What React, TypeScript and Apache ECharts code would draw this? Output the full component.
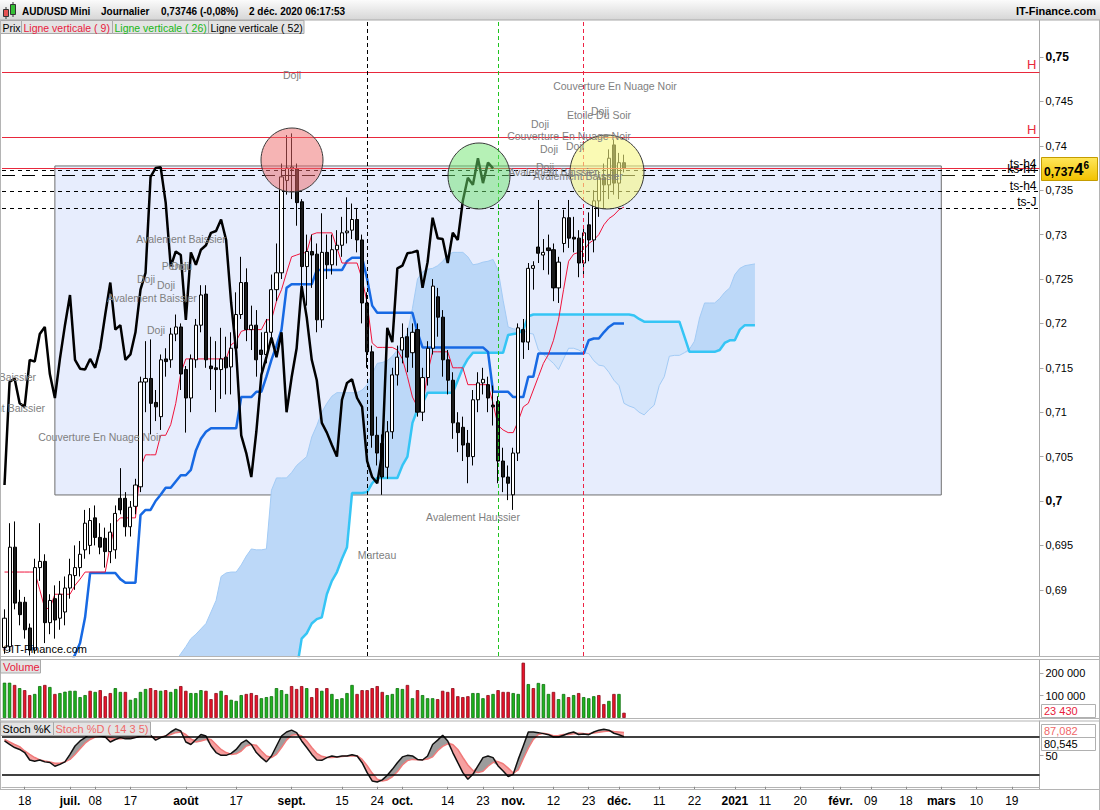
import React, { useEffect, useRef } from "react";
import * as echarts from "echarts";

const FONT = '"Liberation Sans", Arial, sans-serif';

// ---------- categories ----------
const START_DATE = "2020-06-12";
const CATEGORY_COUNT = 206;

const xTickDates = [
  "2020-06-18", "2020-07-01", "2020-07-08", "2020-07-17", "2020-08-03", "2020-08-17",
  "2020-09-01", "2020-09-15", "2020-09-24", "2020-10-01", "2020-10-14", "2020-10-23",
  "2020-11-02", "2020-11-12", "2020-11-23", "2020-12-01", "2020-12-11", "2020-12-22",
  "2021-01-01", "2021-01-11", "2021-01-20", "2021-02-01", "2021-02-09", "2021-02-18",
  "2021-03-01", "2021-03-10", "2021-03-19",
];
const xTickTexts = [
  "18", "juil.", "08", "17", "août", "17", "sept.", "15", "24", "oct.", "14", "23",
  "nov.", "12", "23", "déc.", "11", "22", "2021", "11", "20", "févr.", "09", "18",
  "mars", "10", "19",
];
const boldTickTexts = ["juil.", "août", "sept.", "oct.", "nov.", "déc.", "2021", "févr.", "mars"];

// ---------- candles (AUD/USD daily) ----------
const openP = [
  0.6835, 0.6836, 0.6948, 0.6886, 0.6886, 0.6857, 0.6832, 0.6925, 0.6932, 0.6863,
  0.6890, 0.6868, 0.6875, 0.6902, 0.6916, 0.6925, 0.6945, 0.6950, 0.6981, 0.6959,
  0.6958, 0.6943, 0.6945, 0.7003, 0.7003, 0.6971, 0.6994, 0.7016, 0.7134, 0.7138,
  0.7111, 0.7095, 0.7160, 0.7159, 0.7188, 0.7196, 0.7148, 0.7116, 0.7159, 0.7198,
  0.7233, 0.7152, 0.7150, 0.7148, 0.7162, 0.7151, 0.7172, 0.7210, 0.7246, 0.7193,
  0.7198, 0.7170, 0.7165, 0.7190, 0.7238, 0.7257, 0.7361, 0.7374, 0.7374, 0.7337,
  0.7264, 0.7281, 0.7278, 0.7204, 0.7280, 0.7266, 0.7283, 0.7288, 0.7302, 0.7305,
  0.7317, 0.7294, 0.7223, 0.7168, 0.7074, 0.7065, 0.7038, 0.7078, 0.7142, 0.7170,
  0.7185, 0.7167, 0.7193, 0.7100, 0.7139, 0.7172, 0.7230, 0.7207, 0.7159, 0.7136,
  0.7088, 0.7083, 0.7065, 0.7050, 0.7114, 0.7133, 0.7131, 0.7108, 0.7112, 0.7045,
  0.7027, 0.7007, 0.7054, 0.7193, 0.7179, 0.7262, 0.7286, 0.7277, 0.7285, 0.7283,
  0.7240, 0.7290, 0.7319, 0.7297, 0.7296, 0.7268, 0.7311, 0.7294, 0.7338, 0.7364,
  0.7356, 0.7401, 0.7358, 0.7381,
];
const closeP = [
  0.6868, 0.6948, 0.6885, 0.6872, 0.6855, 0.6832, 0.6925, 0.6932, 0.6863, 0.6888,
  0.6866, 0.6895, 0.6902, 0.6917, 0.6925, 0.6940, 0.6975, 0.6978, 0.6959, 0.6948,
  0.6943, 0.6965, 0.6986, 0.6990, 0.6971, 0.6993, 0.7018, 0.7134, 0.7138, 0.7110,
  0.7106, 0.7159, 0.7157, 0.7188, 0.7196, 0.7143, 0.7116, 0.7160, 0.7198, 0.7232,
  0.7159, 0.7149, 0.7148, 0.7160, 0.7150, 0.7172, 0.7210, 0.7246, 0.7193, 0.7198,
  0.7159, 0.7165, 0.7190, 0.7238, 0.7257, 0.7365, 0.7375, 0.7376, 0.7336, 0.7264,
  0.7281, 0.7277, 0.7204, 0.7280, 0.7266, 0.7283, 0.7288, 0.7302, 0.7304, 0.7317,
  0.7294, 0.7223, 0.7168, 0.7074, 0.7054, 0.7027, 0.7078, 0.7142, 0.7162, 0.7184,
  0.7162, 0.7190, 0.7100, 0.7139, 0.7172, 0.7242, 0.7207, 0.7159, 0.7136, 0.7088,
  0.7077, 0.7063, 0.7050, 0.7114, 0.7133, 0.7137, 0.7116, 0.7106, 0.7045, 0.7027,
  0.7020, 0.7054, 0.7195, 0.7179, 0.7262, 0.7265, 0.7279, 0.7280, 0.7282, 0.7240,
  0.7269, 0.7319, 0.7296, 0.7295, 0.7268, 0.7302, 0.7294, 0.7338, 0.7364, 0.7356,
  0.7386, 0.7358, 0.7381, 0.73746,
];
const highP = [
  0.6878, 0.6975, 0.6977, 0.6900, 0.6892, 0.6862, 0.6935, 0.6975, 0.6940, 0.6895,
  0.6905, 0.6910, 0.6915, 0.6935, 0.6950, 0.6955, 0.6990, 0.6992, 0.6995, 0.6975,
  0.6970, 0.6975, 0.6995, 0.7037, 0.7010, 0.7000, 0.7025, 0.7140, 0.7180, 0.7182,
  0.7125, 0.7165, 0.7172, 0.7195, 0.7210, 0.7200, 0.7152, 0.7165, 0.7205, 0.7243,
  0.7243, 0.7185, 0.7180, 0.7195, 0.7185, 0.7190, 0.7235, 0.7275, 0.7262, 0.7220,
  0.7215, 0.7190, 0.7205, 0.7255, 0.7290, 0.7380, 0.7412, 0.7414, 0.7380, 0.7340,
  0.7300, 0.7300, 0.7290, 0.7324, 0.7300, 0.7300, 0.7305, 0.7320, 0.7342, 0.7335,
  0.7330, 0.7300, 0.7235, 0.7175, 0.7095, 0.7075, 0.7090, 0.7150, 0.7175, 0.7200,
  0.7195, 0.7200, 0.7200, 0.7150, 0.7180, 0.7250, 0.7240, 0.7215, 0.7170, 0.7145,
  0.7100, 0.7095, 0.7080, 0.7125, 0.7145, 0.7150, 0.7140, 0.7130, 0.7118, 0.7060,
  0.7040, 0.7060, 0.7200, 0.7205, 0.7268, 0.7270, 0.7339, 0.7295, 0.7300, 0.7290,
  0.7275, 0.7328, 0.7339, 0.7320, 0.7305, 0.7310, 0.7325, 0.7350, 0.7372, 0.7380,
  0.7396, 0.7407, 0.7392, 0.7390,
];
const lowP = [
  0.6828, 0.6830, 0.6878, 0.6860, 0.6845, 0.6826, 0.6828, 0.6910, 0.6840, 0.6850,
  0.6845, 0.6855, 0.6860, 0.6890, 0.6900, 0.6915, 0.6935, 0.6940, 0.6950, 0.6940,
  0.6925, 0.6930, 0.6935, 0.6985, 0.6960, 0.6960, 0.6985, 0.7010, 0.7100, 0.7075,
  0.7090, 0.7080, 0.7140, 0.7150, 0.7180, 0.7125, 0.7077, 0.7100, 0.7150, 0.7190,
  0.7150, 0.7125, 0.7100, 0.7115, 0.7120, 0.7120, 0.7165, 0.7205, 0.7180, 0.7170,
  0.7140, 0.7145, 0.7155, 0.7180, 0.7225, 0.7250, 0.7345, 0.7340, 0.7310, 0.7240,
  0.7220, 0.7240, 0.7190, 0.7195, 0.7250, 0.7255, 0.7265, 0.7275, 0.7290, 0.7295,
  0.7280, 0.7200, 0.7150, 0.7060, 0.7040, 0.7007, 0.7025, 0.7070, 0.7130, 0.7155,
  0.7145, 0.7150, 0.7095, 0.7090, 0.7130, 0.7165, 0.7185, 0.7140, 0.7120, 0.7070,
  0.7055, 0.7045, 0.7020, 0.7040, 0.7100, 0.7120, 0.7100, 0.7085, 0.7020, 0.7010,
  0.7001, 0.6990, 0.7045, 0.7160, 0.7170, 0.7238, 0.7268, 0.7260, 0.7255, 0.7225,
  0.7223, 0.7280, 0.7285, 0.7280, 0.7252, 0.7255, 0.7270, 0.7280, 0.7320, 0.7330,
  0.7340, 0.7345, 0.7340, 0.7370,
];

// ---------- Ichimoku ----------
const tenkan = [
  0.6920, 0.6920, 0.6920, 0.6920, 0.6920, 0.6920, 0.6920, 0.6900, 0.6879, 0.6879,
  0.6895, 0.6895, 0.6895, 0.6895, 0.6905, 0.6912, 0.6920, 0.6920, 0.6920, 0.6920,
  0.6920, 0.6950, 0.6975, 0.6981, 0.6981, 0.6981, 0.6981, 0.7038, 0.7052, 0.7052,
  0.7052, 0.7074, 0.7074, 0.7086, 0.7110, 0.7144, 0.7160, 0.7160, 0.7160, 0.7160,
  0.7160, 0.7160, 0.7160, 0.7160, 0.7160, 0.7176, 0.7180, 0.7191, 0.7193, 0.7193,
  0.7193, 0.7193, 0.7204, 0.7204, 0.7225, 0.7238, 0.7257, 0.7275, 0.7277, 0.7279,
  0.7280, 0.7300, 0.7302, 0.7302, 0.7302, 0.7302, 0.7285, 0.7268, 0.7268, 0.7268,
  0.7268, 0.7250, 0.7223, 0.7178, 0.7173, 0.7173, 0.7173, 0.7173, 0.7170, 0.7160,
  0.7140, 0.7117, 0.7106, 0.7106, 0.7144, 0.7168, 0.7168, 0.7168, 0.7168, 0.7150,
  0.7150, 0.7150, 0.7131, 0.7131, 0.7131, 0.7131, 0.7131, 0.7110, 0.7085, 0.7080,
  0.7077, 0.7077, 0.7090, 0.7106, 0.7110, 0.7125, 0.7140, 0.7155, 0.7165, 0.7181,
  0.7204, 0.7238, 0.7270, 0.7278, 0.7280, 0.7282, 0.7290, 0.7294, 0.7300, 0.7311,
  0.7318, 0.7322, 0.7328, 0.7331,
];
const KIJUN_START = 13;
const kijun = [
  0.6815, 0.6827, 0.6840, 0.6869, 0.6919, 0.6919, 0.6919,
  0.6919, 0.6919, 0.6919, 0.6912, 0.6908, 0.6908, 0.6908, 0.6984, 0.6990, 0.6990,
  0.7000, 0.7007, 0.7015, 0.7015, 0.7022, 0.7029, 0.7029, 0.7035, 0.7057, 0.7070,
  0.7078, 0.7082, 0.7082, 0.7082, 0.7082, 0.7082, 0.7082, 0.7117, 0.7117, 0.7117,
  0.7123, 0.7123, 0.7140, 0.7159, 0.7175, 0.7193, 0.7240, 0.7244, 0.7244, 0.7244,
  0.7244, 0.7244, 0.7260, 0.7260, 0.7260, 0.7260, 0.7260, 0.7260, 0.7270, 0.7274,
  0.7274, 0.7274, 0.7250, 0.7220, 0.7212, 0.7212, 0.7212, 0.7212, 0.7212, 0.7212,
  0.7212, 0.7212, 0.7190, 0.7173, 0.7173, 0.7173, 0.7173, 0.7173, 0.7173, 0.7173,
  0.7173, 0.7173, 0.7173, 0.7173, 0.7173, 0.7173, 0.7168, 0.7123, 0.7123, 0.7123,
  0.7123, 0.7117, 0.7117, 0.7117, 0.7140, 0.7140, 0.7166, 0.7166, 0.7166, 0.7166,
  0.7166, 0.7166, 0.7166, 0.7166, 0.7166, 0.7166, 0.7181, 0.7183, 0.7183, 0.7190,
  0.7196, 0.7200, 0.7200, 0.7200,
];
const SENKOU_START = 34;
const senkouA = [
  0.6820, 0.6828, 0.6836, 0.6845, 0.6850, 0.6856,
  0.6862, 0.6875, 0.6888, 0.6915, 0.6919, 0.6920, 0.6920, 0.6928, 0.6938, 0.6946,
  0.6945, 0.6945, 0.6946, 0.7012, 0.7026, 0.7026, 0.7026, 0.7032, 0.7040, 0.7045,
  0.7050, 0.7072, 0.7085, 0.7100, 0.7110, 0.7118, 0.7122, 0.7122, 0.7122, 0.7122,
  0.7122, 0.7125, 0.7131, 0.7143, 0.7155, 0.7156, 0.7158, 0.7163, 0.7170, 0.7180,
  0.7189, 0.7217, 0.7250, 0.7258, 0.7261, 0.7262, 0.7265, 0.7270, 0.7277, 0.7280,
  0.7280, 0.7280, 0.7275, 0.7266, 0.7267, 0.7269, 0.7270, 0.7272, 0.7260, 0.7226,
  0.7196, 0.7194, 0.7193, 0.7192, 0.7189, 0.7188, 0.7170, 0.7165, 0.7160, 0.7155,
  0.7148, 0.7160, 0.7172, 0.7172, 0.7170, 0.7167, 0.7166, 0.7158, 0.7153, 0.7152,
  0.7145, 0.7136, 0.7130, 0.7110, 0.7107, 0.7105, 0.7100, 0.7097, 0.7103, 0.7108,
  0.7130, 0.7140, 0.7163, 0.7164, 0.7164, 0.7167, 0.7171, 0.7180, 0.7206, 0.7223,
  0.7223, 0.7223, 0.7228, 0.7235, 0.7240, 0.7255, 0.7262, 0.7265, 0.7266, 0.7267,
];
const senkouB = [
  0.6800, 0.6800, 0.6800, 0.6800, 0.6800, 0.6800,
  0.6800, 0.6800, 0.6800, 0.6800, 0.6800, 0.6800, 0.6800, 0.6800, 0.6800, 0.6800,
  0.6800, 0.6800, 0.6800, 0.6800, 0.6800, 0.6800, 0.6800, 0.6800, 0.6810, 0.6845,
  0.6851, 0.6862, 0.6867, 0.6869, 0.6895, 0.6910, 0.6920, 0.6935, 0.6948, 0.7009,
  0.7009, 0.7009, 0.7010, 0.7020, 0.7026, 0.7026, 0.7026, 0.7026, 0.7026, 0.7040,
  0.7050, 0.7088, 0.7103, 0.7110, 0.7122, 0.7122, 0.7122, 0.7122, 0.7122, 0.7122,
  0.7136, 0.7150, 0.7160, 0.7167, 0.7167, 0.7167, 0.7167, 0.7167, 0.7167, 0.7167,
  0.7187, 0.7188, 0.7189, 0.7193, 0.7208, 0.7210, 0.7210, 0.7210, 0.7210, 0.7210,
  0.7210, 0.7210, 0.7210, 0.7210, 0.7210, 0.7210, 0.7210, 0.7210, 0.7210, 0.7210,
  0.7210, 0.7210, 0.7210, 0.7210, 0.7210, 0.7209, 0.7205, 0.7202, 0.7202, 0.7202,
  0.7202, 0.7202, 0.7202, 0.7202, 0.7202, 0.7185, 0.7168, 0.7168, 0.7168, 0.7168,
  0.7168, 0.7168, 0.7170, 0.7178, 0.7181, 0.7181, 0.7193, 0.7198, 0.7198, 0.7198,
];
const CHIKOU_SHIFT = 26;

// ---------- volume ----------
const volume = [
  157000, 157000, 147000, 133000, 124000, 102000, 107000, 142000, 147000, 138000,
  107000, 111000, 117000, 121000, 121000, 93000, 102000, 121000, 116000, 124000,
  97000, 111000, 133000, 116000, 116000, 81000, 88000, 116000, 129000, 133000,
  124000, 121000, 124000, 116000, 129000, 142000, 121000, 111000, 111000, 124000,
  121000, 84000, 111000, 121000, 102000, 81000, 76000, 102000, 107000, 111000,
  102000, 88000, 93000, 97000, 133000, 124000, 107000, 142000, 129000, 142000,
  133000, 93000, 133000, 121000, 133000, 107000, 84000, 88000, 111000, 147000,
  107000, 124000, 124000, 133000, 142000, 116000, 102000, 107000, 133000, 129000,
  147000, 88000, 124000, 102000, 88000, 88000, 84000, 121000, 116000, 133000,
  97000, 93000, 97000, 111000, 111000, 88000, 102000, 107000, 124000, 116000,
  116000, 111000, 107000, 246000, 151000, 133000, 156000, 151000, 107000, 116000,
  84000, 107000, 93000, 102000, 111000, 93000, 88000, 97000, 102000, 62000,
  76000, 107000, 107000, 23430,
];
const volumeUp = [
  1, 1, 0, 1, 0, 0, 1, 1, 0, 1,
  0, 1, 1, 1, 1, 1, 1, 0, 1, 0,
  0, 0, 1, 1, 0, 1, 1, 1, 1, 0,
  0, 1, 0, 1, 1, 0, 0, 1, 1, 1,
  0, 0, 0, 1, 0, 1, 1, 1, 0, 0,
  0, 1, 1, 1, 1, 1, 1, 0, 0, 0,
  1, 0, 0, 1, 0, 1, 1, 1, 1, 1,
  0, 0, 0, 0, 0, 0, 1, 1, 1, 1,
  0, 1, 0, 1, 1, 1, 0, 0, 0, 0,
  0, 0, 0, 1, 1, 1, 0, 1, 0, 0,
  0, 1, 1, 0, 1, 0, 1, 1, 1, 0,
  1, 1, 0, 1, 0, 1, 1, 1, 0, 0,
  1, 0, 1, 0,
];

// ---------- stochastic (14 3 5) ----------
const stochK = [
  73.6, 68, 63, 60, 55, 43, 41, 43, 40, 39,
  33, 36, 40, 52, 65.5, 73.6, 79, 86, 82.7, 81.6,
  80, 72, 76, 79, 77, 77, 79, 81.6, 81.6, 82.7,
  75, 79, 81.6, 88, 93, 89.6, 72, 68, 76, 84,
  81.6, 65.5, 55, 50.5, 50.5, 53.7, 60, 70, 75, 68,
  55, 46.8, 40, 49.5, 65.5, 81.6, 88, 91, 87, 73.6,
  63, 52, 43, 42.5, 46.8, 49.5, 48, 49.5, 49.5, 51.6,
  49.5, 38.7, 22.7, 9.3, 7.7, 11, 18.4, 28, 38.7, 48,
  50.5, 49.5, 44, 43, 49.5, 68, 75, 82.7, 73.6, 55,
  38.7, 22.7, 12, 20, 33.4, 46.8, 49.5, 46.8, 33.4, 25.4,
  16.3, 20, 44, 65.5, 88, 88, 87, 85.4, 83.7, 80,
  80, 82.7, 86, 88, 84, 84.8, 83.7, 88, 91, 92.3,
  91, 86, 83.7, 80.545,
];
const stochD = [
  76, 72, 68, 64.5, 57.5, 52, 47, 43, 41.4, 40,
  37.7, 37.7, 40, 44, 52, 61, 70, 76, 80, 81.6,
  80, 79, 77, 77, 78, 78.4, 79.5, 80.5, 81, 80.5,
  79.5, 80, 81.6, 84, 87, 88, 84, 77, 72, 73.6,
  76, 76, 68, 60, 55, 52, 53, 57.5, 65.5, 68,
  66.6, 57.5, 49.5, 47, 52, 63, 75, 82.7, 84, 81.6,
  73.6, 63, 53.7, 49, 47, 47, 48, 48.5, 49.5, 49.5,
  50, 44, 34, 22, 12, 9.3, 11, 16, 24, 35,
  42, 44, 43.5, 43.5, 44.5, 48, 58, 65, 69, 68,
  60, 47, 35, 26, 22.7, 25, 33, 39, 40.5, 37,
  30, 22, 27, 45, 62, 76, 84, 86, 84.5, 82,
  82.5, 84, 84, 85, 86, 85.5, 85.4, 86.5, 87.8, 89,
  89.5, 88.7, 88, 87.082,
];

// ---------- drawing levels ----------
const priceTicks = [0.69, 0.695, 0.7, 0.705, 0.71, 0.715, 0.72, 0.725, 0.73, 0.735, 0.74, 0.745, 0.75];
const highLevels = [0.7483, 0.7410];
const tsLevels = [
  { v: 0.7373, name: "ts-h4", dash: [4, 4] },
  { v: 0.73666, name: "ks-h4", dash: [13, 7] },
  { v: 0.73483, name: "ts-h4", dash: [4, 4] },
  { v: 0.733, name: "ts-J", dash: [4, 4] },
];
const verticalLines = [
  { idx: 72, color: "#000000" },
  { idx: 98, color: "#1fc41f" },
  { idx: 115, color: "#ee2244" },
];
const boxStart = 10;
const boxEnd = 186;
const boxTop = 0.73773;
const boxBottom = 0.70068;

const patterns: [string, number, number, string?][] = [
  ["Doji", 292, 75],
  ["Couverture En Nuage Noir", 615, 86],
  ["Etoile Du Soir", 599, 115],
  ["Doji", 600, 111],
  ["Doji", 540, 124],
  ["Couverture En Nuage Noir", 569, 136],
  ["Doji", 549, 149],
  ["Doji", 575, 146],
  ["Doji", 545, 167],
  ["Avalement Baissier", 553, 172],
  ["Avalement Baissier", 578, 176],
  ["Avalement Baissier", 181, 239],
  ["Pendu", 177, 266],
  ["Doji", 180, 266],
  ["Doji", 146, 279],
  ["Doji", 166, 285],
  ["Avalement Baissier", 152, 298],
  ["Doji", 156, 330],
  ["Avalement Baissier", 36, 377, "right"],
  ["Avalement Baissier", 45, 408, "right"],
  ["Couverture En Nuage Noir", 100, 437],
  ["Avalement Haussier", 473, 517],
  ["Marteau", 377, 555],
];

function buildDates(start: string, count: number): string[] {
  const out: string[] = [];
  const d = new Date(start + "T12:00:00Z");
  while (out.length < count) {
    const wd = d.getUTCDay();
    if (wd !== 0 && wd !== 6) out.push(d.toISOString().slice(0, 10));
    d.setUTCDate(d.getUTCDate() + 1);
  }
  return out;
}

function placeAt(n: number, start: number, arr: number[]): (number | null)[] {
  const out: (number | null)[] = [];
  for (let i = 0; i < n; i++) out.push(null);
  arr.forEach((v, i) => {
    if (start + i < n) out[start + i] = v;
  });
  return out;
}

const fmtPrice = (v: number) => String(Number(v.toFixed(4))).replace(".", ",");
const fmtThousands = (v: number) => Math.round(v).toString().replace(/\B(?=(\d{3})+(?!\d))/g, " ");

function buildOption() {
  const dates = buildDates(START_DATE, CATEGORY_COUNT);
  const N = dates.length;
  const tickMap: Record<string, string> = {};
  xTickDates.forEach((d, i) => (tickMap[d] = xTickTexts[i]));

  const candleData = openP.map((o, i) => [o, closeP[i], lowP[i], highP[i]]);
  const tenkanS = placeAt(N, 0, tenkan);
  const kijunS = placeAt(N, KIJUN_START, kijun);
  const spanA = placeAt(N, SENKOU_START, senkouA);
  const spanB = placeAt(N, SENKOU_START, senkouB);
  const chikouS = placeAt(N, 0, closeP.slice(CHIKOU_SHIFT));

  const cloudBase = spanA.map((a, i) => (a == null || spanB[i] == null ? null : Math.min(a, spanB[i] as number)));
  const cloudBull = spanA.map((a, i) => (a == null || spanB[i] == null ? null : Math.max(a - (spanB[i] as number), 0)));
  const cloudBear = spanA.map((a, i) => (a == null || spanB[i] == null ? null : Math.max((spanB[i] as number) - a, 0)));

  const kS = placeAt(N, 0, stochK);
  const dS = placeAt(N, 0, stochD);
  const stBase = kS.map((k, i) => (k == null ? null : Math.min(k, dS[i] as number)));
  const stGray = kS.map((k, i) => (k == null ? null : Math.max(k - (dS[i] as number), 0)));
  const stRed = kS.map((k, i) => (k == null ? null : Math.max((dS[i] as number) - k, 0)));

  const volData = volume.map((v, i) => ({
    value: v,
    itemStyle: {
      color: volumeUp[i] ? "#1fb41f" : "#e8142c",
      borderColor: volumeUp[i] ? "#0b6e0b" : "#8a0b18",
      borderWidth: 0.8,
    },
  }));

  const lastClose = closeP[closeP.length - 1];
  const lastStr = lastClose.toFixed(5).replace(".", ",");
  const lastK = stochK[stochK.length - 1];
  const lastD = stochD[stochD.length - 1];
  const lastVol = volume[volume.length - 1];

  const gridL = 2;
  const gridW = 1037.5;

  const hiddenX = (gi: number) => ({
    type: "category",
    gridIndex: gi,
    data: dates,
    boundaryGap: true,
    axisLine: { show: false },
    axisTick: { show: false },
    axisLabel: { show: false },
    splitLine: { show: false },
  });

  const markLineData: any[] = [];
  highLevels.forEach((v) =>
    markLineData.push({
      yAxis: v,
      lineStyle: { color: "#e8283c", width: 1, type: "solid" },
      label: { show: true, formatter: "H", position: "insideEndTop", color: "#e8283c", fontSize: 13, fontFamily: FONT, distance: [3, 1] },
    })
  );
  markLineData.push({
    yAxis: lastClose,
    lineStyle: { color: "#e8283c", width: 1, type: "solid" },
    label: { show: false },
  });
  tsLevels.forEach((t) =>
    markLineData.push({
      yAxis: t.v,
      lineStyle: { color: "#000", width: 1, type: t.dash },
      label: { show: true, formatter: t.name, position: "insideEndTop", color: "#000", fontSize: 12, fontFamily: FONT, distance: [3, 0] },
    })
  );
  verticalLines.forEach((l) =>
    markLineData.push({
      xAxis: dates[l.idx],
      lineStyle: { color: l.color, width: 1, type: [4, 3] },
      label: { show: false },
    })
  );

  const lineBase = {
    type: "line",
    xAxisIndex: 0,
    yAxisIndex: 0,
    symbol: "none",
    showSymbol: false,
    connectNulls: false,
    silent: true,
  };

  const graphics: any[] = [];
  const headerGrad = new echarts.graphic.LinearGradient(0, 0, 0, 1, [
    { offset: 0, color: "#fbfbfb" },
    { offset: 1, color: "#d6d6d6" },
  ]);
  graphics.push({ type: "rect", z: 100, shape: { x: 0, y: 0, width: 1100, height: 20 }, style: { fill: headerGrad } });
  graphics.push({ type: "line", z: 100, shape: { x1: 0, y1: 20, x2: 1100, y2: 20 }, style: { stroke: "#a8a8a8", lineWidth: 1 } });
  // icon
  graphics.push({ type: "line", z: 101, shape: { x1: 6, y1: 7, x2: 6, y2: 19 }, style: { stroke: "#333", lineWidth: 1 } });
  graphics.push({ type: "rect", z: 101, shape: { x: 3.5, y: 9.5, width: 5, height: 7 }, style: { fill: "#e55050", stroke: "#333", lineWidth: 1 } });
  graphics.push({ type: "line", z: 101, shape: { x1: 13, y1: 2, x2: 13, y2: 17 }, style: { stroke: "#333", lineWidth: 1 } });
  graphics.push({ type: "rect", z: 101, shape: { x: 10.5, y: 4.5, width: 5, height: 10 }, style: { fill: "#35c035", stroke: "#333", lineWidth: 1 } });
  const headerTexts: [string, number][] = [
    ["AUD/USD Mini", 22],
    ["Journalier", 101],
    [`${lastStr} (-0,08%)`, 161],
    ["2 déc. 2020 06:17:53", 249],
  ];
  headerTexts.forEach(([t, x]) =>
    graphics.push({ type: "text", z: 101, x, y: 11, style: { text: t, fill: "#000", font: `bold 10px ${FONT}`, verticalAlign: "middle" } })
  );
  graphics.push({ type: "text", z: 101, x: 1096, y: 11, style: { text: "IT-Finance.com", fill: "#000", font: `bold 11px ${FONT}`, align: "right", verticalAlign: "middle" } });

  // legend buttons
  const legendBtns: [string, string, number, number][] = [
    ["Prix", "#000", 0.5, 21],
    ["Ligne verticale ( 9)", "#e8203c", 21.5, 91],
    ["Ligne verticale ( 26)", "#17b617", 112.5, 96],
    ["Ligne verticale ( 52)", "#000", 208.5, 95.5],
  ];
  legendBtns.forEach(([t, c, x, w]) => {
    graphics.push({ type: "rect", z: 100, shape: { x, y: 20.5, width: w, height: 13 }, style: { fill: "#e3e3e3", stroke: "#a9a9a9", lineWidth: 1 } });
    graphics.push({ type: "text", z: 101, x: x + 2, y: 27.5, style: { text: t, fill: c, font: `10.5px ${FONT}`, verticalAlign: "middle" } });
  });

  // panel separators
  [656.5, 659.5, 718.5, 721, 789.5].forEach((y) =>
    graphics.push({ type: "line", z: 100, shape: { x1: 0, y1: y, x2: 1100, y2: y }, style: { stroke: "#b4b4b4", lineWidth: 1.2 } })
  );
  graphics.push({ type: "line", z: 100, shape: { x1: 0.5, y1: 20, x2: 0.5, y2: 790 }, style: { stroke: "#b4b4b4", lineWidth: 1 } });
  graphics.push({ type: "line", z: 100, shape: { x1: 1099.5, y1: 20, x2: 1099.5, y2: 810 }, style: { stroke: "#b4b4b4", lineWidth: 1 } });

  // circles
  const circles: [number, number, number, number, string][] = [
    [292, 160, 31, 32, "rgba(238,105,105,0.5)"],
    [479, 176, 31, 33, "rgba(110,228,110,0.5)"],
    [607, 172, 37, 37, "rgba(246,246,130,0.6)"],
  ];
  circles.forEach(([cx, cy, rx, ry, fill]) =>
    graphics.push({ type: "ellipse", z: 90, shape: { cx, cy, rx, ry }, style: { fill, stroke: "#3a3a3a", lineWidth: 1 } })
  );

  // pattern labels
  patterns.forEach(([t, x, y, al]) =>
    graphics.push({ type: "text", z: 95, x, y, style: { text: t, fill: "#808080", font: `10.5px ${FONT}`, align: al || "center", verticalAlign: "middle" } })
  );
  graphics.push({ type: "text", z: 95, x: 3, y: 649, style: { text: "©IT-Finance.com", fill: "#000", font: `11px ${FONT}`, verticalAlign: "middle" } });

  // price badge
  const badgeGrad = new echarts.graphic.LinearGradient(0, 0, 0, 1, [
    { offset: 0, color: "#ffe65a" },
    { offset: 1, color: "#f2c200" },
  ]);
  graphics.push({ type: "rect", z: 100, shape: { x: 1041.5, y: 157.5, width: 56, height: 23 }, style: { fill: badgeGrad, stroke: "#c49c00", lineWidth: 1 } });
  graphics.push({
    type: "text",
    z: 101,
    x: 1044,
    y: 169,
    style: {
      text: `{a|${lastStr.slice(0, 5)}}{b|${lastStr.slice(5, 6)}}{c|${lastStr.slice(6, 7)}}`,
      verticalAlign: "middle",
      rich: {
        a: { font: `bold 12px ${FONT}`, fill: "#000", verticalAlign: "bottom" },
        b: { font: `bold 17px ${FONT}`, fill: "#000", verticalAlign: "bottom" },
        c: { font: `bold 10px ${FONT}`, fill: "#000", verticalAlign: "top" },
      },
    },
  });

  // panel legends
  graphics.push({ type: "rect", z: 100, shape: { x: 0.5, y: 660, width: 40, height: 13 }, style: { fill: "#e3e3e3", stroke: "#a9a9a9", lineWidth: 1 } });
  graphics.push({ type: "text", z: 101, x: 3, y: 666.5, style: { text: "Volume", fill: "#e8203c", font: `11px ${FONT}`, verticalAlign: "middle" } });
  graphics.push({ type: "rect", z: 100, shape: { x: 0.5, y: 722, width: 53, height: 13.5 }, style: { fill: "#e3e3e3", stroke: "#a9a9a9", lineWidth: 1 } });
  graphics.push({ type: "text", z: 101, x: 2.5, y: 729, style: { text: "Stoch %K", fill: "#000", font: `11px ${FONT}`, verticalAlign: "middle" } });
  graphics.push({ type: "rect", z: 100, shape: { x: 53.5, y: 722, width: 97, height: 13.5 }, style: { fill: "#e3e3e3", stroke: "#a9a9a9", lineWidth: 1 } });
  graphics.push({ type: "text", z: 101, x: 55.5, y: 729, style: { text: "Stoch %D ( 14 3 5)", fill: "#f06868", font: `11px ${FONT}`, verticalAlign: "middle" } });

  // right value boxes
  const valBoxes: [string, string, number][] = [
    [fmtThousands(lastVol), "#e8203c", 704],
    [lastD.toFixed(3).replace(".", ","), "#f06868", 724],
    [lastK.toFixed(3).replace(".", ","), "#000", 737],
  ];
  valBoxes.forEach(([t, c, y]) => {
    graphics.push({ type: "rect", z: 100, shape: { x: 1041.5, y: y + 0.5, width: 54, height: 13 }, style: { fill: "#fff", stroke: "#b0b0b0", lineWidth: 1 } });
    graphics.push({ type: "text", z: 101, x: 1044, y: y + 7, style: { text: t, fill: c, font: `11px ${FONT}`, verticalAlign: "middle" } });
  });

  const option: any = {
    animation: false,
    backgroundColor: "#ffffff",
    grid: [
      { left: gridL, width: gridW, top: 20, height: 636 },
      { left: gridL, width: gridW, top: 660, height: 58 },
      { left: gridL, width: gridW, top: 721, height: 68 },
    ],
    xAxis: [
      hiddenX(0),
      hiddenX(1),
      {
        type: "category",
        gridIndex: 2,
        data: dates,
        boundaryGap: true,
        axisLine: { show: true, lineStyle: { color: "#b4b4b4" } },
        axisTick: {
          show: true,
          length: 3,
          lineStyle: { color: "#888" },
          interval: (_i: number, v: string) => tickMap[v] !== undefined,
          alignWithLabel: true,
        },
        axisLabel: {
          interval: (_i: number, v: string) => tickMap[v] !== undefined,
          formatter: (v: string) => {
            const t = tickMap[v];
            if (t === undefined) return "";
            return boldTickTexts.indexOf(t) >= 0 ? `{b|${t}}` : t;
          },
          color: "#000",
          fontSize: 12,
          fontFamily: FONT,
          margin: 6,
          rich: { b: { fontWeight: "bold", fontSize: 12, fontFamily: FONT, color: "#000" } },
        },
        splitLine: { show: false },
      },
    ],
    yAxis: [
      {
        type: "value",
        gridIndex: 0,
        position: "right",
        min: 0.682545,
        max: 0.754167,
        splitLine: { show: false },
        axisLine: { show: true, lineStyle: { color: "#a8a8a8" } },
        axisTick: { show: true, length: 4, lineStyle: { color: "#a8a8a8" }, customValues: priceTicks },
        axisLabel: {
          customValues: priceTicks,
          margin: 6,
          color: "#000",
          fontSize: 11,
          fontFamily: FONT,
          formatter: (v: number) => {
            const s = fmtPrice(v);
            const isMajor = Math.abs(v * 20 - Math.round(v * 20)) < 1e-6;
            return isMajor ? `{b|${s}}` : s;
          },
          rich: { b: { fontWeight: "bold", fontSize: 12, fontFamily: FONT, color: "#000" } },
        },
      },
      {
        type: "value",
        gridIndex: 1,
        position: "right",
        min: 0,
        max: 258000,
        splitLine: { show: false },
        axisLine: { show: true, lineStyle: { color: "#a8a8a8" } },
        axisTick: { show: true, length: 4, lineStyle: { color: "#a8a8a8" }, customValues: [100000, 200000] },
        axisLabel: {
          customValues: [100000, 200000],
          margin: 6,
          color: "#000",
          fontSize: 11,
          fontFamily: FONT,
          formatter: (v: number) => fmtThousands(v),
        },
      },
      {
        type: "value",
        gridIndex: 2,
        position: "right",
        min: -3.6,
        max: 105.7,
        splitLine: { show: false },
        axisLine: { show: true, lineStyle: { color: "#a8a8a8" } },
        axisTick: { show: true, length: 4, lineStyle: { color: "#a8a8a8" }, customValues: [50] },
        axisLabel: { customValues: [50], margin: 6, color: "#000", fontSize: 11, fontFamily: FONT },
      },
    ],
    series: [
      {
        ...lineBase,
        name: "frame",
        data: [],
        z: 1,
        markArea: {
          silent: true,
          itemStyle: { color: "#e7edfd", borderColor: "#6e6e6e", borderWidth: 1 },
          data: [[{ xAxis: dates[boxStart], yAxis: boxTop }, { xAxis: dates[boxEnd], yAxis: boxBottom }]],
        },
        markLine: { silent: true, precision: 6, symbol: ["none", "none"], data: markLineData },
      },
      { ...lineBase, name: "cloudBase", data: cloudBase, stack: "cloud", lineStyle: { width: 0, opacity: 0 }, z: 2 },
      { ...lineBase, name: "cloudBull", data: cloudBull, stack: "cloud", lineStyle: { width: 0, opacity: 0 }, areaStyle: { color: "#bcd8f8", opacity: 1 }, z: 2 },
      { ...lineBase, name: "cloudBear", data: cloudBear, stack: "cloud", lineStyle: { width: 0, opacity: 0 }, areaStyle: { color: "#d5e5fb", opacity: 1 }, z: 2 },
      { ...lineBase, name: "senkouA", data: spanA, lineStyle: { color: "#a3cbf5", width: 1 }, z: 3 },
      { ...lineBase, name: "senkouB", data: spanB, lineStyle: { color: "#35c5f5", width: 2.5 }, z: 3 },
      { ...lineBase, name: "kijun", data: kijunS, lineStyle: { color: "#1769e3", width: 2.5 }, z: 3 },
      { ...lineBase, name: "tenkan", data: tenkanS, lineStyle: { color: "#f0143c", width: 1 }, z: 3 },
      {
        type: "candlestick",
        name: "AUD/USD",
        xAxisIndex: 0,
        yAxisIndex: 0,
        data: candleData,
        barWidth: 3.6,
        z: 4,
        silent: true,
        itemStyle: { color: "#ffffff", color0: "#1a1a1a", borderColor: "#000000", borderColor0: "#000000", borderWidth: 1 },
      },
      { ...lineBase, name: "chikou", data: chikouS, lineStyle: { color: "#000000", width: 2.5 }, z: 5 },
      {
        type: "bar",
        name: "Volume",
        xAxisIndex: 1,
        yAxisIndex: 1,
        data: volData,
        barWidth: 3.4,
        silent: true,
      },
      { type: "line", xAxisIndex: 2, yAxisIndex: 2, symbol: "none", silent: true, data: stBase, stack: "st", lineStyle: { width: 0, opacity: 0 }, z: 2 },
      { type: "line", xAxisIndex: 2, yAxisIndex: 2, symbol: "none", silent: true, data: stGray, stack: "st", lineStyle: { width: 0, opacity: 0 }, areaStyle: { color: "#9c9c9c", opacity: 1 }, z: 2 },
      { type: "line", xAxisIndex: 2, yAxisIndex: 2, symbol: "none", silent: true, data: stRed, stack: "st", lineStyle: { width: 0, opacity: 0 }, areaStyle: { color: "#f6a0a0", opacity: 1 }, z: 2 },
      {
        type: "line",
        name: "Stoch %D",
        xAxisIndex: 2,
        yAxisIndex: 2,
        symbol: "none",
        silent: true,
        data: dS,
        lineStyle: { color: "#f07a7a", width: 1.5 },
        z: 3,
      },
      {
        type: "line",
        name: "Stoch %K",
        xAxisIndex: 2,
        yAxisIndex: 2,
        symbol: "none",
        silent: true,
        data: kS,
        lineStyle: { color: "#111111", width: 1.5 },
        z: 4,
        markLine: {
          silent: true,
          symbol: ["none", "none"],
          label: { show: false },
          lineStyle: { color: "#000", width: 1.5, type: "solid" },
          data: [{ yAxis: 80 }, { yAxis: 20 }],
        },
      },
    ],
    graphic: graphics,
  };
  return option;
}

export default function App() {
  const ref = useRef<HTMLDivElement>(null);
  useEffect(() => {
    document.body.style.margin = "0";
    if (!ref.current) return;
    const chart = echarts.init(ref.current, null, { renderer: "svg", width: 1100, height: 810 });
    chart.setOption(buildOption());
    return () => chart.dispose();
  }, []);
  return <div ref={ref} style={{ width: 1100, height: 810 }} />;
}
